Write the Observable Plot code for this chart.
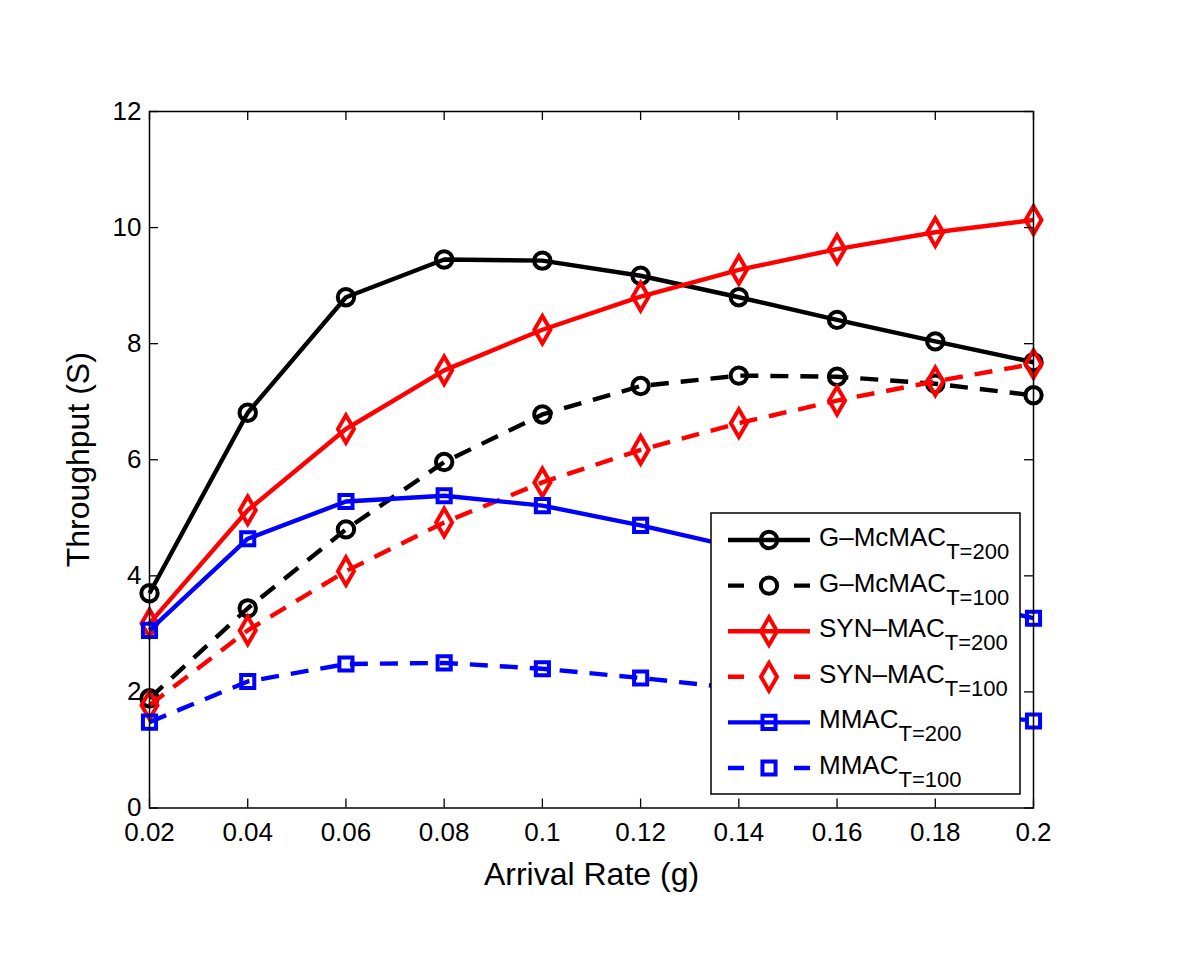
<!DOCTYPE html>
<html>
<head>
<meta charset="utf-8">
<script src="https://cdn.jsdelivr.net/npm/d3@7"></script>
<script src="https://cdn.jsdelivr.net/npm/@observablehq/plot@0.6"></script>
<style>
  html, body { margin: 0; padding: 0; background: #fff; }
  #chart { position: relative; width: 1200px; height: 980px; }
  svg { font-family: "Liberation Sans", Arial, Helvetica, sans-serif; }
</style>
</head>
<body>
<div id="chart"></div>
<script>
// ---- data ----
const arrivalRate = [0.02, 0.04, 0.06, 0.08, 0.1, 0.12, 0.14, 0.16, 0.18, 0.2];
const gmcmacT200 = [3.70, 6.81, 8.80, 9.45, 9.43, 9.17, 8.80, 8.41, 8.04, 7.68];
const gmcmacT100 = [1.89, 3.44, 4.80, 5.96, 6.78, 7.27, 7.45, 7.43, 7.31, 7.11];
const synmacT200 = [3.18, 5.13, 6.53, 7.54, 8.24, 8.81, 9.27, 9.63, 9.92, 10.13];
const synmacT100 = [1.77, 3.06, 4.08, 4.92, 5.61, 6.17, 6.63, 7.02, 7.35, 7.65];
const mmacT200   = [3.06, 4.64, 5.28, 5.38, 5.21, 4.87, 4.48, 4.05, 3.65, 3.27];
const mmacT100   = [1.48, 2.18, 2.48, 2.50, 2.40, 2.24, 2.06, 1.90, 1.70, 1.50];

const xTicks = [0.02, 0.04, 0.06, 0.08, 0.1, 0.12, 0.14, 0.16, 0.18, 0.2];
const xTickLabels = ["0.02", "0.04", "0.06", "0.08", "0.1", "0.12", "0.14", "0.16", "0.18", "0.2"];
const yTicks = [0, 2, 4, 6, 8, 10, 12];
const yTickLabels = ["0", "2", "4", "6", "8", "10", "12"];

const seriesNames = ["G–McMAC", "G–McMAC", "SYN–MAC", "SYN–MAC", "MMAC", "MMAC"];
const seriesSubs = ["T=200", "T=100", "T=200", "T=100", "T=200", "T=100"];
const seriesValues = [gmcmacT200, gmcmacT100, synmacT200, synmacT100, mmacT200, mmacT100];
const seriesColors = ["#000000", "#000000", "#ff0000", "#ff0000", "#0000ff", "#0000ff"];
const seriesDashed = [false, true, false, true, false, true];
const seriesSymbols = ["circle", "circle", "diamond", "diamond", "square", "square"];

// ---- layout ----
const W = 1200, H = 980;
const mL = 149, mR = 167, mT = 111, mB = 172.5;
const innerW = W - mL - mR, innerH = H - mT - mB;
const tickLen = 9;
const dash = "18,12";
const symR = {circle: 8.2, diamond: 8.4, square: 7.4};
const FONT = "'Liberation Sans', Arial, Helvetica, sans-serif";

const series = seriesValues.map((vals, i) => ({
  i, name: seriesNames[i], sub: seriesSubs[i], color: seriesColors[i],
  dashed: seriesDashed[i], symbol: seriesSymbols[i],
  data: arrivalRate.map((x, j) => ({x, y: vals[j]}))
}));

const marks = [];
for (const s of series) {
  marks.push(Plot.line(s.data, {
    x: "x", y: "y", stroke: s.color, strokeWidth: 4.4,
    strokeDasharray: s.dashed ? dash : null, strokeLinejoin: "round", strokeLinecap: "butt"
  }));
  marks.push(Plot.dot(s.data, {
    x: "x", y: "y", symbol: () => s.symbol, r: symR[s.symbol],
    stroke: s.color, strokeWidth: 4, fill: "none"
  }));
}

const chart = Plot.plot({
  width: W, height: H,
  marginLeft: mL, marginRight: mR, marginTop: mT, marginBottom: mB,
  style: {background: "#fff", fontFamily: FONT, color: "#000"},
  x: {domain: [0.02, 0.2]},
  y: {domain: [0, 12]},
  symbol: {type: "identity"},
  marks: [
    Plot.axisX({
      ticks: xTicks, tickSize: 0, tickPadding: 15, fontSize: 26,
      tickFormat: (d) => xTickLabels[xTicks.indexOf(d)],
      label: "Arrival Rate (g)", labelAnchor: "center", labelArrow: "none", labelOffset: 77
    }),
    Plot.axisY({
      ticks: yTicks, tickSize: 0, tickPadding: 8, fontSize: 26,
      tickFormat: (d) => yTickLabels[yTicks.indexOf(d)],
      label: "Throughput (S)", labelAnchor: "center", labelArrow: "none", labelOffset: 83
    }),
    ...marks,
    // inward ticks on all four sides (MATLAB style)
    Plot.tickX(xTicks, {x: (d) => d, insetTop: innerH - tickLen, stroke: "#000", strokeWidth: 1.3}),
    Plot.tickX(xTicks, {x: (d) => d, insetBottom: innerH - tickLen, stroke: "#000", strokeWidth: 1.3}),
    Plot.tickY(yTicks, {y: (d) => d, insetRight: innerW - tickLen, stroke: "#000", strokeWidth: 1.3}),
    Plot.tickY(yTicks, {y: (d) => d, insetLeft: innerW - tickLen, stroke: "#000", strokeWidth: 1.3}),
    Plot.frame({stroke: "#000", strokeWidth: 1.5})
  ]
});

// font sizes for axis texts
const sel = d3.select(chart);
sel.selectAll("g[aria-label='x-axis tick label'], g[aria-label='y-axis tick label']")
  .attr("font-size", 26);
sel.selectAll("g[aria-label='x-axis tick label'] text, g[aria-label='y-axis tick label'] text")
  .attr("font-size", 26);
sel.selectAll("g[aria-label='x-axis label'] text, g[aria-label='y-axis label'] text")
  .attr("font-size", 32);

document.getElementById("chart").append(chart);

// ---- legend (inside the plot, lower right) ----
const lg = {x: 711, y: 513, w: 309, h: 281, row0: 540, rowStep: 45.6,
  lineX1: 728, lineX2: 810, markX: 769, textX: 819};
const g = sel.append("g").attr("class", "legend")
  .attr("text-anchor", "start").attr("font-family", FONT);
g.append("rect").attr("x", lg.x).attr("y", lg.y).attr("width", lg.w).attr("height", lg.h)
  .attr("fill", "#fff").attr("stroke", "#000").attr("stroke-width", 1.5);
const symMap = {circle: d3.symbolCircle, diamond: d3.symbolDiamond, square: d3.symbolSquare};
series.forEach((s, k) => {
  const cy = lg.row0 + k * lg.rowStep;
  g.append("line").attr("x1", lg.lineX1).attr("x2", lg.lineX2).attr("y1", cy).attr("y2", cy)
    .attr("stroke", s.color).attr("stroke-width", 4.4)
    .attr("stroke-dasharray", s.dashed ? "16,50,16" : null);
  const r = symR[s.symbol];
  g.append("path").attr("transform", `translate(${lg.markX},${cy})`)
    .attr("d", d3.symbol(symMap[s.symbol], Math.PI * r * r)())
    .attr("fill", "none").attr("stroke", s.color).attr("stroke-width", 4);
  const t = g.append("text").attr("x", lg.textX).attr("y", cy + 6)
    .attr("font-size", 26).attr("fill", "#000").attr("text-anchor", "start");
  t.append("tspan").text(s.name);
  t.append("tspan").attr("dy", 13).attr("font-size", 22).text(s.sub);
});
</script>
</body>
</html>
